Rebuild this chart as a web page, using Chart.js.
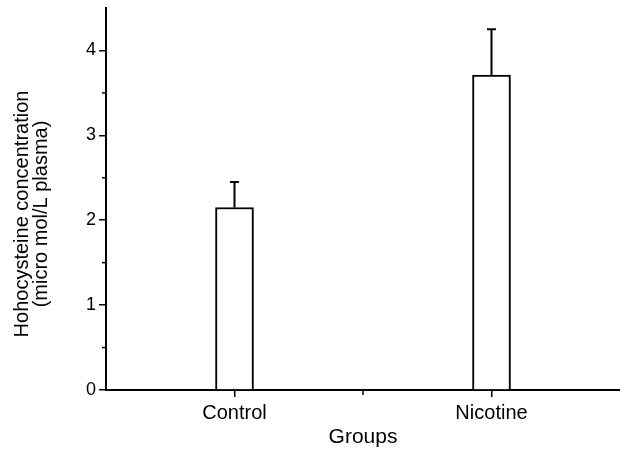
<!DOCTYPE html>
<html>
<head>
<meta charset="utf-8">
<script src="https://cdn.jsdelivr.net/npm/chart.js@4.4.0/dist/chart.umd.min.js"></script>
<style>
  html, body { margin: 0; padding: 0; background: #fff; }
  #wrap { width: 620px; height: 453px; position: relative; }
</style>
</head>
<body>
<div id="wrap"><canvas id="myChart"></canvas></div>
<script>
// Daten
const groups = ['Control', 'Nicotine'];
const meanValues = [2.15, 3.71];
const errValues = [0.30, 0.54];
const yTicks = [0, 1, 2, 3, 4];
const yMinorTicks = [0.5, 1.5, 2.5, 3.5];
const xMinorTicks = [0.5];
const yTitle = ['Hohocysteine concentration', '(micro mol/L plasma)'];
const xTitle = 'Groups';

const fontFam = 'Arial, "Liberation Sans", Helvetica, sans-serif';

// Fehlerbalken (nur nach oben) und kleine Ticks zeichnen
const extrasPlugin = {
    id: 'extras',
    afterDatasetsDraw(chart) {
        const ctx = chart.ctx;
        const xs = chart.scales.x;
        const ys = chart.scales.y;
        ctx.save();
        ctx.strokeStyle = '#000';
        ctx.lineWidth = 2;
        meanValues.forEach((m, i) => {
            const x = xs.getPixelForValue(i);
            const y1 = ys.getPixelForValue(m);
            const y2 = ys.getPixelForValue(m + errValues[i]);
            ctx.beginPath();
            ctx.moveTo(x, y1);
            ctx.lineTo(x, y2);
            ctx.moveTo(x - 4.5, y2);
            ctx.lineTo(x + 4.5, y2);
            ctx.stroke();
        });
        ctx.lineWidth = 1.5;
        yMinorTicks.forEach(v => {
            const y = ys.getPixelForValue(v);
            ctx.beginPath();
            ctx.moveTo(ys.right - 4, y);
            ctx.lineTo(ys.right, y);
            ctx.stroke();
        });
        xMinorTicks.forEach(v => {
            const x = xs.getPixelForValue(v);
            ctx.beginPath();
            ctx.moveTo(x, xs.top);
            ctx.lineTo(x, xs.top + 5);
            ctx.stroke();
        });
        ctx.restore();
    },
    afterDraw(chart) {
        const ctx = chart.ctx;
        ctx.save();
        ctx.fillStyle = '#000';
        ctx.font = '20px ' + fontFam;
        ctx.textAlign = 'center';
        ctx.textBaseline = 'middle';
        ctx.translate(31, 214);
        ctx.rotate(-Math.PI / 2);
        ctx.fillText(yTitle[0], 0, -9);
        ctx.fillText(yTitle[1], 0, 10);
        ctx.restore();
    }
};

const ctx = document.getElementById('myChart');
new Chart(ctx, {
    type: 'bar',
    data: {
        datasets: [{
            data: groups.map((g, i) => ({ x: i, y: meanValues[i] })),
            backgroundColor: '#fff',
            borderColor: '#000',
            borderWidth: 2,
            barThickness: 38
        }]
    },
    options: {
        responsive: true,
        maintainAspectRatio: false,
        animation: false,
        layout: { padding: { top: 8, right: 0, left: 0, bottom: 0 } },
        plugins: {
            legend: { display: false },
            tooltip: { enabled: false }
        },
        scales: {
            x: {
                type: 'linear',
                offset: false,
                min: -0.5,
                max: 1.5,
                afterBuildTicks: axis => { axis.ticks = groups.map((g, i) => ({ value: i })); },
                afterFit: axis => { axis.height = 63; axis.paddingLeft = 0; axis.paddingRight = 0; },
                ticks: {
                    callback: v => groups[v] || '',
                    color: '#000',
                    font: { family: fontFam, size: 20 },
                    padding: 4,
                    maxRotation: 0,
                    autoSkip: false
                },
                grid: { display: true, offset: false, drawOnChartArea: false, color: '#000', lineWidth: 1.5, tickLength: 7 },
                border: { display: true, color: '#000', width: 2 },
                title: {
                    display: true,
                    text: xTitle,
                    color: '#000',
                    font: { family: fontFam, size: 21 },
                    padding: { top: 0, bottom: 3 }
                }
            },
            y: {
                min: 0,
                max: 4.5,
                afterBuildTicks: axis => { axis.ticks = yTicks.map(v => ({ value: v })); },
                afterFit: axis => { axis.width = 106; axis.paddingTop = 0; axis.paddingBottom = 0; },
                ticks: {
                    color: '#000',
                    font: { family: fontFam, size: 18 },
                    padding: 3
                },
                grid: { display: true, drawOnChartArea: false, color: '#000', lineWidth: 1.5, tickLength: 7 },
                border: { display: true, color: '#000', width: 2 }
            }
        }
    },
    plugins: [extrasPlugin]
});
</script>
</body>
</html>
